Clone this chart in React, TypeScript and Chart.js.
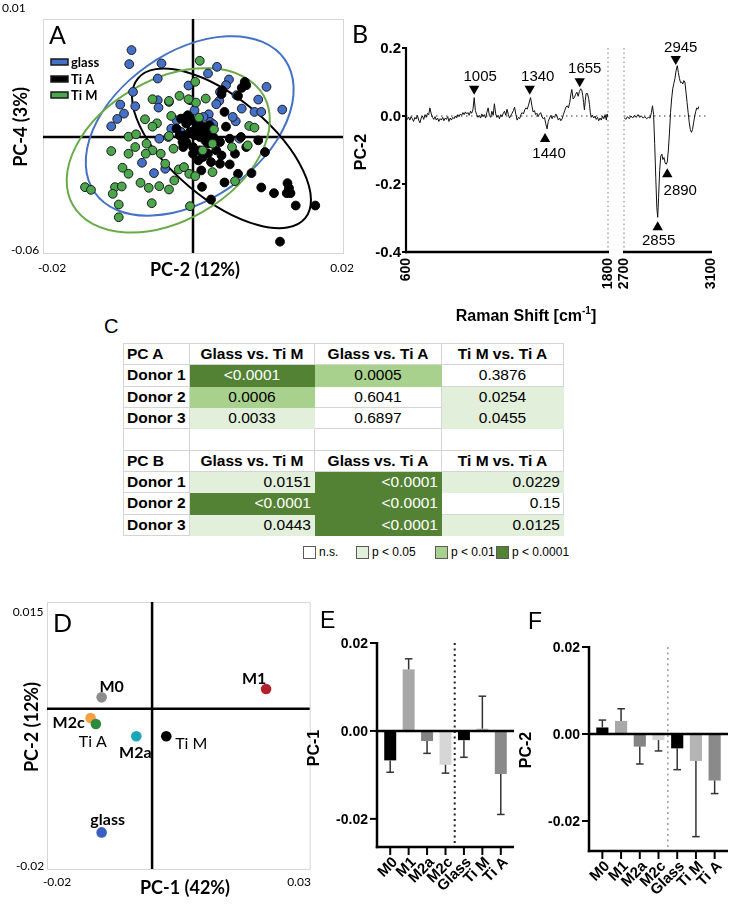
import React, { useEffect, useRef } from 'react';
import { Chart, registerables } from 'chart.js';

Chart.register(...registerables);

type Pt = [number, number];

/* ============================ DATA ============================ */

// ---- Panel A : PCA scores (values in units of 1e-3) ----
const A_UNIT = 0.001;
const A_X_MIN = -0.02;
const A_X_MAX = 0.02;
const A_Y_MIN = -0.06;
const A_Y_MAX = 0.01;
const A_CROSS_X = 0;
const A_CROSS_Y = -0.0253;
const A_TICK_TEXT = ['0.01', '-0.06', '-0.02', '0.02'];
const A_AXIS_TITLES = ['PC-2 (12%)', 'PC-4 (3%)'];
const A_GROUPS = ['glass', 'Ti A', 'Ti M'];

const A_GLASS: Pt[] = [
  [-8.2, 0.7], [-8.5, -3.5], [-4.2, -3.3], [-4.7, -7.8], [-8.0, -11.8], [-9.7, -15.6], [-7.7, -16.1],
  [-9.2, -18.3], [-10.1, -19.9], [-10.9, -22.1], [-4.7, -14.3], [-4.6, -16.5], [-3.2, -14.8], [-0.6, -9.9],
  [2.0, -6.3], [3.2, -4.3], [4.8, -8.1], [4.4, -9.8], [3.6, -11.8], [3.5, -14.5], [3.1, -15.5],
  [9.8, -10.3], [8.7, -14.1], [6.5, -16.8], [8.2, -17.8], [9.1, -17.8], [11.9, -17.1], [5.7, -20.6],
  [2.1, -18.5], [2.3, -20.8], [-1.2, -19.8], [-4.5, -25.8], [-6.8, -33.0], [-5.2, -36.1], [-3.7, -34.8],
  [-2.9, -22.8], [-3.3, -25.3], [5.8, -12.8], [-0.9, -19.5], [6.2, -25.8], [2.7, -21.5], [0.9, -22.8],
  [-1.6, -23.8], [5.3, -19.3], [0.2, -17.3], [1.4, -19.3], [-2.2, -20.3], [-0.4, -14.3],
];

const A_TI_A: Pt[] = [
  [6.9, -8.8], [7.1, -9.8], [6.5, -10.6], [3.9, -11.3], [3.8, -12.5], [6.0, -13.0], [4.2, -17.8],
  [4.4, -22.2], [0.8, -21.5], [-1.6, -19.8], [-0.9, -21.3], [-0.2, -20.3], [0.4, -22.8], [-0.4, -23.8],
  [-1.1, -24.8], [0.2, -24.8], [0.9, -25.3], [1.8, -24.3], [1.6, -26.3], [2.7, -25.3], [-2.2, -22.8],
  [-1.8, -24.8], [-0.9, -26.8], [0.0, -28.3], [0.9, -29.3], [2.0, -30.3], [3.1, -29.3], [3.6, -26.8],
  [4.9, -25.8], [6.4, -25.3], [3.8, -30.8], [4.9, -33.5], [5.6, -30.3], [7.1, -28.3], [8.7, -26.3],
  [9.6, -29.8], [1.3, -31.3], [0.7, -32.3], [0.0, -30.3], [2.4, -32.8], [3.6, -33.3], [1.1, -35.3],
  [6.0, -36.3], [7.8, -36.1], [4.2, -38.9], [1.2, -40.2], [2.4, -44.0], [9.1, -40.4], [10.8, -42.1],
  [12.6, -39.1], [12.8, -40.6], [12.5, -42.1], [13.0, -42.1], [13.7, -45.8], [16.3, -45.8], [11.6, -56.6],
  [0.9, -23.3], [-0.7, -18.8], [2.0, -27.3], [-1.3, -28.3], [1.4, -22.3], [2.2, -21.8], [-1.4, -26.8],
];

const A_TI_M: Pt[] = [
  [0.9, -2.5], [0.3, -8.8], [1.7, -13.8], [0.4, -15.0], [0.8, -19.5], [2.8, -23.0], [7.5, -22.0],
  [8.2, -22.5], [-5.4, -14.0], [-3.2, -14.5], [-1.8, -13.0], [-2.9, -19.0], [-6.4, -20.0], [-4.8, -21.2],
  [-5.4, -22.2], [-8.6, -25.2], [-7.6, -24.5], [-3.2, -25.0], [-0.6, -14.0], [-10.9, -29.5], [-8.6, -30.3],
  [-7.7, -28.3], [-6.2, -27.3], [-5.4, -29.3], [-4.3, -30.3], [-2.6, -28.8], [-6.3, -30.3], [-9.4, -34.5],
  [-8.6, -36.3], [-3.7, -33.3], [-1.9, -35.0], [-1.2, -34.3], [-0.5, -36.3], [-2.5, -38.3], [-7.0, -39.0],
  [-5.9, -40.5], [-4.5, -40.0], [-3.2, -41.0], [-14.4, -40.3], [-13.6, -41.1], [-10.4, -40.3], [-9.5, -40.1],
  [-10.7, -42.3], [-9.9, -45.5], [-9.9, -49.3], [-5.5, -45.1], [-0.4, -46.0], [2.6, -27.3], [1.3, -29.3],
  [5.2, -28.3], [7.3, -27.8], [2.6, -35.8], [5.6, -38.5], [0.3, -37.0],
];

// confidence ellipse centres (glass, Ti A, Ti M), units 1e-3
const A_ELLIPSE_CENTERS: Pt[] = [[-0.44, -22.0], [3.8, -28.7], [-3.3, -29.3]];

// ---- Panel B : PC-2 loading spectrum ----
const B_Y_MIN = -0.4;
const B_Y_MAX = 0.2;
const B_Y_TICKS = [0.2, 0.0, -0.2, -0.4];
const B_Y_TICK_TEXT = ['0.2', '0.0', '-0.2', '-0.4'];
const B_LOW_RANGE = [600, 1800];
const B_HIGH_RANGE = [2700, 3100];

const B_SPECTRUM_LOW: Pt[] = [
  [600, -0.004], [608, -0.010], [615, -0.003], [623, -0.012], [630, -0.002], [638, -0.008], [645, -0.016],
  [653, -0.004], [660, -0.009], [668, 0.002], [675, -0.012], [683, -0.020], [690, -0.006], [698, 0.000],
  [705, -0.010], [713, 0.004], [720, -0.004], [728, 0.008], [735, 0.004], [742, 0.024], [750, 0.006],
  [758, -0.004], [765, -0.010], [773, -0.002], [780, -0.012], [788, -0.006], [795, -0.016], [803, -0.008],
  [810, -0.012], [818, -0.004], [825, -0.014], [833, -0.006], [840, -0.010], [848, -0.002], [855, -0.016],
  [863, -0.006], [870, -0.012], [878, -0.004], [885, -0.008], [893, 0.000], [900, -0.006], [908, 0.004],
  [915, -0.002], [923, 0.006], [930, 0.002], [938, 0.010], [945, 0.004], [953, 0.012], [960, 0.006],
  [968, 0.010], [975, 0.002], [983, 0.014], [990, 0.008], [998, 0.020], [1005, 0.054], [1012, 0.016],
  [1020, 0.004], [1028, -0.004], [1035, 0.002], [1043, -0.006], [1050, 0.006], [1058, -0.002], [1065, 0.004],
  [1073, -0.006], [1080, 0.010], [1088, 0.024], [1095, 0.002], [1103, -0.004], [1110, 0.014], [1118, 0.002],
  [1125, 0.036], [1133, 0.006], [1140, -0.004], [1148, 0.002], [1155, -0.008], [1163, 0.004], [1170, -0.002],
  [1178, 0.008], [1185, 0.014], [1193, 0.002], [1200, 0.020], [1208, 0.004], [1215, -0.006], [1223, 0.002],
  [1230, 0.008], [1238, 0.016], [1245, 0.026], [1253, 0.004], [1260, -0.012], [1268, -0.004], [1275, -0.008],
  [1283, 0.004], [1290, 0.010], [1298, 0.006], [1305, 0.018], [1313, 0.024], [1320, 0.020], [1328, 0.032],
  [1335, 0.046], [1340, 0.054], [1348, 0.030], [1355, 0.012], [1363, 0.016], [1370, 0.004], [1378, 0.008],
  [1385, -0.002], [1393, 0.006], [1400, 0.010], [1408, -0.002], [1415, -0.008], [1423, -0.004], [1430, -0.022],
  [1438, -0.038], [1445, -0.016], [1453, -0.006], [1460, 0.002], [1468, -0.008], [1475, 0.000], [1483, -0.004],
  [1490, 0.006], [1498, -0.002], [1505, -0.012], [1513, -0.006], [1520, -0.014], [1528, -0.008], [1535, 0.004],
  [1543, 0.016], [1550, 0.026], [1558, 0.030], [1565, 0.024], [1573, 0.040], [1580, 0.066], [1585, 0.078],
  [1593, 0.050], [1600, 0.054], [1608, 0.064], [1615, 0.070], [1623, 0.058], [1630, 0.072], [1638, 0.080],
  [1645, 0.074], [1650, 0.060], [1655, 0.040], [1660, 0.018], [1665, 0.046], [1670, 0.066], [1678, 0.066],
  [1685, 0.052], [1690, 0.034], [1695, 0.010], [1700, -0.004], [1708, 0.002], [1715, -0.006], [1723, 0.000],
  [1730, -0.010], [1738, -0.004], [1745, -0.014], [1753, -0.006], [1760, -0.012], [1768, 0.000], [1775, -0.008],
  [1783, 0.004], [1790, -0.012], [1795, 0.006], [1800, -0.004],
];

const B_SPECTRUM_HIGH: Pt[] = [
  [2700, -0.004], [2708, -0.010], [2716, -0.002], [2724, -0.008], [2732, 0.000], [2740, -0.006], [2748, 0.002],
  [2756, -0.004], [2764, 0.004], [2772, -0.004], [2780, 0.000], [2788, -0.006], [2796, -0.002], [2804, -0.008],
  [2812, -0.004], [2820, -0.006], [2826, 0.010], [2831, 0.030], [2836, 0.004], [2841, -0.080], [2846, -0.180],
  [2851, -0.270], [2855, -0.298], [2859, -0.240], [2864, -0.160], [2869, -0.118], [2874, -0.112], [2879, -0.128],
  [2884, -0.122], [2889, -0.138], [2894, -0.142], [2899, -0.135], [2904, -0.100], [2909, -0.050], [2914, 0.010],
  [2919, 0.050], [2924, 0.080], [2929, 0.095], [2934, 0.110], [2940, 0.135], [2945, 0.148], [2950, 0.128],
  [2955, 0.110], [2960, 0.098], [2965, 0.100], [2970, 0.094], [2975, 0.104], [2980, 0.100], [2985, 0.070],
  [2990, 0.040], [2995, 0.010], [3000, -0.020], [3005, -0.040], [3010, -0.048], [3015, -0.040], [3020, -0.020],
  [3025, 0.000], [3030, 0.014], [3035, 0.024], [3040, 0.020], [3044, 0.028],
];

// peak markers: wavenumber of marker, value of marker, text, direction
const B_MARK_W_LOW = [1005, 1335, 1426, 1632];
const B_MARK_V_LOW = [0.080, 0.080, -0.068, 0.102];
const B_MARK_TEXT_LOW = ['1005', '1340', '1440', '1655'];
const B_MARK_DOWN_LOW = [true, true, false, true];
const B_MARK_W_HIGH = [2855, 2899, 2938];
const B_MARK_V_HIGH = [-0.327, -0.171, 0.168];
const B_MARK_TEXT_HIGH = ['2855', '2890', '2945'];
const B_MARK_DOWN_HIGH = [false, false, true];

// ---- Panel C : p-value table ----
const C_HEADERS = ['Glass vs. Ti M', 'Glass vs. Ti A', 'Ti M vs. Ti A'];
const C_DONORS = ['Donor 1', 'Donor 2', 'Donor 3'];
const C_PCA_P = [
  ['<0.0001', '0.0005', '0.3876'],
  ['0.0006', '0.6041', '0.0254'],
  ['0.0033', '0.6897', '0.0455'],
];
const C_PCA_LEVEL = [[3, 2, 0], [2, 0, 1], [1, 0, 1]];
const C_PCB_P = [
  ['0.0151', '<0.0001', '0.0229'],
  ['<0.0001', '<0.0001', '0.15'],
  ['0.0443', '<0.0001', '0.0125'],
];
const C_PCB_LEVEL = [[1, 3, 1], [3, 3, 0], [1, 3, 1]];
const C_LEGEND = ['n.s.', 'p < 0.05', 'p < 0.01', 'p < 0.0001'];

// ---- Panel D : group means ----
const D_GROUPS = ['M0', 'M1', 'M2c', 'Ti A', 'M2a', 'Ti M', 'glass'];
const D_PC1 = [-0.0096, 0.0217, -0.0117, -0.0107, -0.0030, 0.0027, -0.0096];
const D_PC2 = [0.0015, 0.0026, -0.0012, -0.0020, -0.0036, -0.0036, -0.0162];
const D_X_MIN = -0.02;
const D_X_MAX = 0.03;
const D_Y_MIN = -0.021;
const D_Y_MAX = 0.014;
const D_TICK_TEXT = ['0.015', '-0.02', '-0.02', '0.03'];
const D_AXIS_TITLES = ['PC-1 (42%)', 'PC-2 (12%)'];

// ---- Panels E / F : bar charts ----
const BAR_CATEGORIES = ['M0', 'M1', 'M2a', 'M2c', 'Glass', 'Ti M', 'Ti A'];
const E_PC1 = [-0.0067, 0.0140, -0.0023, -0.0077, -0.0021, 0.0005, -0.0098];
const E_SD = [0.0027, 0.0024, 0.0028, 0.0019, 0.0039, 0.0074, 0.0092];
const F_PC2 = [0.0015, 0.0030, -0.0029, -0.0014, -0.0033, -0.0062, -0.0107];
const F_SD = [0.0017, 0.0028, 0.0040, 0.0025, 0.0049, 0.0174, 0.0030];
const BAR_Y_TICKS = [0.02, 0, -0.02];
const BAR_Y_TICK_TEXT = ['0.02', '0.00', '-0.02'];

/* ============================ STYLE ============================ */

const SANS = '"Liberation Sans", Arial, sans-serif';
const CAL = 'Lato, "Open Sans", sans-serif';

const A_FILL = ['#4470c8', '#000000', '#4ca64c'];
const A_ELLIPSE = [
  { a: 116, b: 73.5, rot: -35, color: '#4472c4' },
  { a: 109, b: 50, rot: 40, color: '#000000' },
  { a: 110, b: 70.5, rot: -30, color: '#6aaa48' },
];
const B_LABEL_OFFSET: Record<string, [number, number]> = {
  '1005': [6, -12], '1340': [8, -12], '1440': [4, 15], '1655': [5, -12],
  '2855': [1, 14], '2890': [13, 17], '2945': [5, -11],
};
const C_FILLS = ['#ffffff', '#e2efda', '#a9d18e', '#548235'];
const C_COL_W = [66, 125, 127, 122];
const C_ROW_H = 21.33;
const C_LEGEND_X = [303, 356, 435, 496];
const D_COLORS = ['#8c8c8c', '#b2222a', '#f5a043', '#2d8a3c', '#1ba7b8', '#000000', '#3b5fc0'];
const D_LABEL = [
  { dx: 10, dy: -11, bold: true }, { dx: -12, dy: -10, bold: true }, { dx: -22, dy: 5, bold: true },
  { dx: -3, dy: 18, bold: false }, { dx: -1, dy: 17, bold: true }, { dx: 25, dy: 8, bold: false },
  { dx: 6, dy: -13, bold: true },
];
const BAR_COLORS = ['#000000', '#a8a8a8', '#848484', '#d6d6d6', '#000000', '#b4b4b4', '#8a8a8a'];

/* ============================ HELPERS ============================ */

function txt(ctx: any, s: string, x: number, y: number, font: string, align = 'center', baseline = 'middle', rotate = 0, color = '#000') {
  ctx.save();
  ctx.font = font;
  ctx.fillStyle = color;
  ctx.textAlign = align;
  ctx.textBaseline = baseline;
  ctx.translate(x, y);
  if (rotate) ctx.rotate((rotate * Math.PI) / 180);
  ctx.fillText(s, 0, 0);
  ctx.restore();
}

function seg(ctx: any, x1: number, y1: number, x2: number, y2: number, w: number, color = '#000', dash: number[] = []) {
  ctx.save();
  ctx.beginPath();
  ctx.lineWidth = w;
  ctx.strokeStyle = color;
  ctx.setLineDash(dash);
  ctx.moveTo(x1, y1);
  ctx.lineTo(x2, y2);
  ctx.stroke();
  ctx.restore();
}

function baseOptions(padding: any) {
  return {
    animation: false,
    responsive: false,
    maintainAspectRatio: false,
    devicePixelRatio: 1,
    events: [],
    layout: { padding },
    plugins: { legend: { display: false }, tooltip: { enabled: false } },
  };
}

function ChartBox({ left, top, width, height, make }: any) {
  const ref = useRef<HTMLCanvasElement>(null);
  useEffect(() => {
    const chart = new Chart(ref.current as HTMLCanvasElement, make());
    return () => chart.destroy();
  }, []);
  return (
    <canvas
      ref={ref}
      width={width}
      height={height}
      style={{ position: 'absolute', left, top, width, height }}
    />
  );
}

/* ============================ PANEL A ============================ */

function configA(): any {
  const pts = (arr: Pt[]) => arr.map(([x, y]) => ({ x: x * A_UNIT, y: y * A_UNIT }));
  const groups = [A_GLASS, A_TI_A, A_TI_M];
  const order = [3, 2, 1];
  return {
    type: 'scatter',
    data: {
      datasets: groups.map((g, i) => ({
        label: A_GROUPS[i],
        data: pts(g),
        pointRadius: 4.4,
        pointBorderWidth: 1,
        pointBackgroundColor: A_FILL[i],
        pointBorderColor: i === 1 ? '#000' : '#1b1b1b',
        order: order[i],
      })),
    },
    options: {
      ...baseOptions({ left: 43, top: 19, right: 12, bottom: 32 }),
      scales: {
        x: { type: 'linear', min: A_X_MIN, max: A_X_MAX, display: false },
        y: { type: 'linear', min: A_Y_MIN, max: A_Y_MAX, display: false },
      },
    },
    plugins: [
      {
        id: 'aDecor',
        beforeDatasetsDraw(chart: any) {
          const { ctx, chartArea: ca, scales } = chart;
          const { x, y } = scales;
          ctx.save();
          ctx.strokeStyle = '#d6d6d6';
          ctx.lineWidth = 1;
          ctx.strokeRect(ca.left + 0.5, ca.top + 0.5, ca.right - ca.left, ca.bottom - ca.top);
          ctx.restore();
          const cx = x.getPixelForValue(A_CROSS_X);
          const cy = y.getPixelForValue(A_CROSS_Y);
          seg(ctx, cx, ca.top, cx, ca.bottom, 2.5);
          seg(ctx, ca.left, cy, ca.right, cy, 2.5);
          A_ELLIPSE_CENTERS.forEach(([ex, ey], i) => {
            const st = A_ELLIPSE[i];
            ctx.save();
            ctx.beginPath();
            ctx.lineWidth = 2;
            ctx.strokeStyle = st.color;
            ctx.ellipse(
              x.getPixelForValue(ex * A_UNIT),
              y.getPixelForValue(ey * A_UNIT),
              st.a, st.b, (st.rot * Math.PI) / 180, 0, Math.PI * 2,
            );
            ctx.stroke();
            ctx.restore();
          });
        },
        afterDraw(chart: any) {
          const { ctx } = chart;
          const f12 = `12px ${CAL}`;
          txt(ctx, A_TICK_TEXT[0], 2, 8, f12, 'left');
          txt(ctx, A_TICK_TEXT[1], 25, 250, f12);
          txt(ctx, A_TICK_TEXT[2], 52, 268, f12);
          txt(ctx, A_TICK_TEXT[3], 342, 268, f12);
          txt(ctx, A_AXIS_TITLES[0], 195, 270, `bold 18px ${CAL}`);
          txt(ctx, A_AXIS_TITLES[1], 21, 127, `bold 18px ${CAL}`, 'center', 'middle', -90);
          txt(ctx, 'A', 49, 44, `25px ${CAL}`, 'left', 'alphabetic');
          const ys = [62, 79, 95];
          A_GROUPS.forEach((g, i) => {
            ctx.save();
            ctx.fillStyle = A_FILL[i];
            ctx.fillRect(51, ys[i] - 3, 17, 6);
            ctx.strokeStyle = '#1a1a1a';
            ctx.lineWidth = 1.5;
            ctx.strokeRect(51, ys[i] - 3, 17, 6);
            ctx.restore();
            txt(ctx, g, 71, ys[i] + 1, `bold 13px ${CAL}`, 'left');
          });
        },
      },
    ],
  };
}

/* ============================ PANEL B ============================ */

function configB(low: boolean): any {
  const spec = low ? B_SPECTRUM_LOW : B_SPECTRUM_HIGH;
  const mw = low ? B_MARK_W_LOW : B_MARK_W_HIGH;
  const mv = low ? B_MARK_V_LOW : B_MARK_V_HIGH;
  const mt = low ? B_MARK_TEXT_LOW : B_MARK_TEXT_HIGH;
  const md = low ? B_MARK_DOWN_LOW : B_MARK_DOWN_HIGH;
  const range = low ? B_LOW_RANGE : B_HIGH_RANGE;
  return {
    type: 'scatter',
    data: {
      datasets: [
        {
          data: spec.map(([w, v]) => ({ x: w, y: v })),
          showLine: true,
          borderColor: '#111',
          borderWidth: 1,
          pointRadius: 0,
          tension: 0,
        },
        {
          data: mw.map((w, i) => ({ x: w, y: mv[i] })),
          pointStyle: 'triangle',
          pointRadius: 6,
          pointRotation: md.map((d) => (d ? 180 : 0)),
          pointBackgroundColor: '#000',
          pointBorderColor: '#000',
          pointBorderWidth: 0,
          showLine: false,
        },
      ],
    },
    options: {
      ...baseOptions(low ? { left: 66, top: 48, right: 8, bottom: 78 } : { left: 8, top: 48, right: 20, bottom: 78 }),
      scales: {
        x: { type: 'linear', min: range[0], max: range[1], display: false },
        y: { type: 'linear', min: B_Y_MIN, max: B_Y_MAX, display: false },
      },
    },
    plugins: [
      {
        id: 'bDecor',
        beforeDatasetsDraw(chart: any) {
          const { ctx, chartArea: ca, scales } = chart;
          const y0 = scales.y.getPixelForValue(0);
          seg(ctx, ca.left, y0, low ? ca.right : ca.right - 4, y0, 1.3, '#777', [1.5, 3.5]);
          const dx = low ? ca.right : ca.left;
          seg(ctx, dx, ca.top, dx, ca.bottom, 1.5, '#a8a8a8', [1.5, 3]);
        },
        afterDraw(chart: any) {
          const { ctx, chartArea: ca, scales } = chart;
          const { x, y } = scales;
          seg(ctx, ca.left - 1, ca.bottom, ca.right + 1, ca.bottom, 2.5);
          if (low) {
            seg(ctx, ca.left, ca.top - 1, ca.left, ca.bottom + 1.2, 2.2);
            B_Y_TICKS.forEach((t, i) => {
              const py = y.getPixelForValue(t);
              seg(ctx, ca.left - 4, py, ca.left, py, 2);
              txt(ctx, B_Y_TICK_TEXT[i], ca.left - 5, py + 1, `bold 15px ${SANS}`, 'right');
            });
            txt(ctx, 'PC-2', 22, 152, `bold 16px ${SANS}`, 'center', 'middle', -90);
            txt(ctx, 'B', 12, 43, `25px ${CAL}`, 'left', 'alphabetic');
            // axis title with superscript
            const main = 'Raman Shift [cm';
            const sup = '-1';
            const end = ']';
            ctx.save();
            ctx.font = `bold 16px ${SANS}`;
            const w1 = ctx.measureText(main).width;
            const w3 = ctx.measureText(end).width;
            ctx.font = `bold 10px ${SANS}`;
            const w2 = ctx.measureText(sup).width;
            ctx.restore();
            const total = w1 + w2 + w3;
            const sx = 186 - total / 2;
            txt(ctx, main, sx, 321, `bold 16px ${SANS}`, 'left', 'alphabetic');
            txt(ctx, sup, sx + w1, 314, `bold 10px ${SANS}`, 'left', 'alphabetic');
            txt(ctx, end, sx + w1 + w2, 321, `bold 16px ${SANS}`, 'left', 'alphabetic');
          }
          range.forEach((v) => {
            txt(ctx, String(v), x.getPixelForValue(v), ca.bottom + 6, `bold 14px ${SANS}`, 'right', 'middle', -90);
          });
          mw.forEach((w, i) => {
            const off = B_LABEL_OFFSET[mt[i]];
            txt(ctx, mt[i], x.getPixelForValue(w) + off[0], y.getPixelForValue(mv[i]) + off[1], `15px ${SANS}`);
          });
        },
      },
    ],
  };
}

/* ============================ PANEL C ============================ */

function TableC() {
  const cells: any[] = [];
  const add = (key: string, text: string, level: number, bold: boolean, align: string) => {
    const bg = C_FILLS[level];
    const bc = level === 0 ? '#d4d4d4' : bg;
    cells.push(
      <div
        key={key}
        style={{
          boxSizing: 'border-box',
          height: C_ROW_H,
          borderRight: `1px solid ${bc}`,
          borderBottom: `1px solid ${bc}`,
          background: bg,
          color: level === 3 ? '#ffffff' : '#000000',
          display: 'flex',
          alignItems: 'center',
          justifyContent: align,
          padding: '0 3px',
          fontWeight: bold ? 700 : 400,
          whiteSpace: 'nowrap',
          overflow: 'hidden',
        }}
      >
        {text}
      </div>,
    );
  };
  const block = (name: string, vals: string[][], levels: number[][], align: string) => {
    add(name + 'h0', name, 0, true, 'flex-start');
    C_HEADERS.forEach((h, j) => add(name + 'h' + (j + 1), h, 0, true, 'center'));
    C_DONORS.forEach((d, i) => {
      add(name + d, d, 0, true, 'flex-start');
      vals[i].forEach((v, j) => add(name + d + j, v, levels[i][j], false, align));
    });
  };
  block('PC A', C_PCA_P, C_PCA_LEVEL, 'center');
  [0, 1, 2, 3].forEach((j) => add('empty' + j, '', 0, false, 'center'));
  block('PC B', C_PCB_P, C_PCB_LEVEL, 'flex-end');
  return (
    <>
      <div style={{ position: 'absolute', left: 104, top: 316, font: `20px ${SANS}`, lineHeight: '20px' }}>C</div>
      <div
        style={{
          position: 'absolute',
          left: 123,
          top: 343,
          display: 'grid',
          gridTemplateColumns: C_COL_W.map((w) => w + 'px').join(' '),
          gridAutoRows: C_ROW_H + 'px',
          borderTop: '1px solid #d4d4d4',
          borderLeft: '1px solid #d4d4d4',
          fontFamily: SANS,
          fontSize: 15.5,
        }}
      >
        {cells}
      </div>
      {C_LEGEND.map((l, i) => (
        <div
          key={l}
          style={{
            position: 'absolute', left: C_LEGEND_X[i], top: 546, display: 'flex', alignItems: 'center',
            fontFamily: SANS, fontSize: 12, lineHeight: '13px', whiteSpace: 'nowrap',
          }}
        >
          <div style={{ width: 11, height: 11, background: C_FILLS[i], border: '1px solid #5a5a5a', marginRight: 3 }} />
          <span>{l}</span>
        </div>
      ))}
    </>
  );
}

/* ============================ PANEL D ============================ */

function configD(): any {
  return {
    type: 'scatter',
    data: {
      datasets: [
        {
          data: D_PC1.map((v, i) => ({ x: v, y: D_PC2[i] })),
          pointRadius: 5.3,
          pointBorderWidth: 0,
          pointBackgroundColor: D_COLORS,
        },
      ],
    },
    options: {
      ...baseOptions({ left: 47, top: 32, right: 4, bottom: 35 }),
      scales: {
        x: { type: 'linear', min: D_X_MIN, max: D_X_MAX, display: false },
        y: { type: 'linear', min: D_Y_MIN, max: D_Y_MAX, display: false },
      },
    },
    plugins: [
      {
        id: 'dDecor',
        beforeDatasetsDraw(chart: any) {
          const { ctx, chartArea: ca, scales } = chart;
          ctx.save();
          ctx.strokeStyle = '#d6d6d6';
          ctx.lineWidth = 1;
          ctx.strokeRect(ca.left + 0.5, ca.top + 0.5, ca.right - ca.left, ca.bottom - ca.top);
          ctx.restore();
          const cx = scales.x.getPixelForValue(0);
          const cy = scales.y.getPixelForValue(0);
          seg(ctx, cx, ca.top, cx, ca.bottom, 2.5);
          seg(ctx, ca.left, cy, ca.right, cy, 2.5);
        },
        afterDraw(chart: any) {
          const { ctx, scales } = chart;
          D_GROUPS.forEach((g, i) => {
            const st = D_LABEL[i];
            txt(
              ctx, g,
              scales.x.getPixelForValue(D_PC1[i]) + st.dx,
              scales.y.getPixelForValue(D_PC2[i]) + st.dy,
              `${st.bold ? 'bold ' : ''}16px ${CAL}`,
            );
          });
          const f12 = `12px ${CAL}`;
          txt(ctx, D_TICK_TEXT[0], 28, 42, f12);
          txt(ctx, D_TICK_TEXT[1], 30, 296, f12);
          txt(ctx, D_TICK_TEXT[2], 57, 312, f12);
          txt(ctx, D_TICK_TEXT[3], 299, 312, f12);
          txt(ctx, D_AXIS_TITLES[0], 185, 318, `bold 18px ${CAL}`);
          txt(ctx, D_AXIS_TITLES[1], 32, 157, `bold 18px ${CAL}`, 'center', 'middle', -90);
          txt(ctx, 'D', 53, 62, `25px ${CAL}`, 'left', 'alphabetic');
        },
      },
    ],
  };
}

/* ============================ PANELS E / F ============================ */

function configBar(p: any): any {
  return {
    type: 'bar',
    data: {
      labels: BAR_CATEGORIES,
      datasets: [
        {
          data: p.values,
          backgroundColor: BAR_COLORS,
          borderWidth: 0,
          barPercentage: 0.65,
          categoryPercentage: 1,
        },
      ],
    },
    options: {
      ...baseOptions(p.padding),
      scales: {
        x: { type: 'category', display: false, offset: true },
        y: { type: 'linear', min: p.yMin, max: p.yMax, display: false },
      },
    },
    plugins: [
      {
        id: 'barDecor',
        beforeDatasetsDraw(chart: any) {
          const { ctx, chartArea: ca, scales } = chart;
          const dx = (scales.x.getPixelForValue(3) + scales.x.getPixelForValue(4)) / 2;
          seg(ctx, dx, ca.top, dx, ca.bottom, p.dividerWidth, p.dividerColor, [2, 3.5]);
        },
        afterDatasetsDraw(chart: any) {
          const { ctx, chartArea: ca, scales } = chart;
          const { x, y } = scales;
          // error bars (outward from the bar end)
          p.values.forEach((v: number, i: number) => {
            const end = v + Math.sign(v) * p.sds[i];
            const px = x.getPixelForValue(i);
            const y1 = y.getPixelForValue(v);
            const y2 = y.getPixelForValue(end);
            seg(ctx, px, y1, px, y2, 1.5, '#333');
            seg(ctx, px - 3.8, y2, px + 3.8, y2, 1.5, '#333');
          });
          const ax = ca.left - 4;
          const y0 = y.getPixelForValue(0);
          seg(ctx, ax, y0, ca.right + 4, y0, 2.5);
          seg(ctx, ax, y.getPixelForValue(p.yMax) - 1, ax, ca.bottom + 1.2, 2.5);
          seg(ctx, ax - 1.2, ca.bottom, ca.right + 4, ca.bottom, 2.5);
          BAR_Y_TICKS.forEach((t, i) => {
            const py = y.getPixelForValue(t);
            seg(ctx, ax - 7, py, ax, py, 2);
            txt(ctx, BAR_Y_TICK_TEXT[i], ax - 9, py + 1, `bold 14px ${SANS}`, 'right');
          });
          BAR_CATEGORIES.forEach((c, i) => {
            const px = x.getPixelForValue(i);
            seg(ctx, px, ca.bottom, px, ca.bottom + 8, 2);
            txt(ctx, c, px + 5, ca.bottom + 13, `bold 15px ${SANS}`, 'right', 'middle', -45);
          });
          txt(ctx, p.title, p.titlePos[0], p.titlePos[1], `bold 16px ${SANS}`, 'center', 'middle', -90);
          txt(ctx, p.letter, p.letterPos[0], p.letterPos[1], `23px ${SANS}`, 'left', 'alphabetic');
        },
      },
    ],
  };
}

const configE = () =>
  configBar({
    values: E_PC1,
    sds: E_SD,
    yMin: -0.0264,
    yMax: 0.02,
    padding: { left: 81, top: 53, right: 20, bottom: 57 },
    title: 'PC-1',
    titlePos: [15, 158],
    letter: 'E',
    letterPos: [20, 38],
    dividerColor: '#222',
    dividerWidth: 2,
  });

const configF = () =>
  configBar({
    values: F_PC2,
    sds: F_SD,
    yMin: -0.0269,
    yMax: 0.02,
    padding: { left: 78, top: 57, right: 7, bottom: 53 },
    title: 'PC-2',
    titlePos: [12, 160],
    letter: 'F',
    letterPos: [13, 39],
    dividerColor: '#9a9a9a',
    dividerWidth: 1.5,
  });

/* ============================ APP ============================ */

export default function App() {
  useEffect(() => {
    document.body.style.margin = '0';
  }, []);
  return (
    <div style={{ position: 'absolute', left: 0, top: 0, width: 731, height: 904, background: '#fff', overflow: 'hidden' }}>
      <ChartBox left={0} top={0} width={355} height={285} make={configA} />
      <ChartBox left={340} top={0} width={276} height={330} make={() => configB(true)} />
      <ChartBox left={616} top={0} width={115} height={330} make={() => configB(false)} />
      <TableC />
      <ChartBox left={0} top={570} width={315} height={334} make={configD} />
      <ChartBox left={300} top={590} width={230} height={314} make={configE} />
      <ChartBox left={515} top={590} width={216} height={314} make={configF} />
    </div>
  );
}
